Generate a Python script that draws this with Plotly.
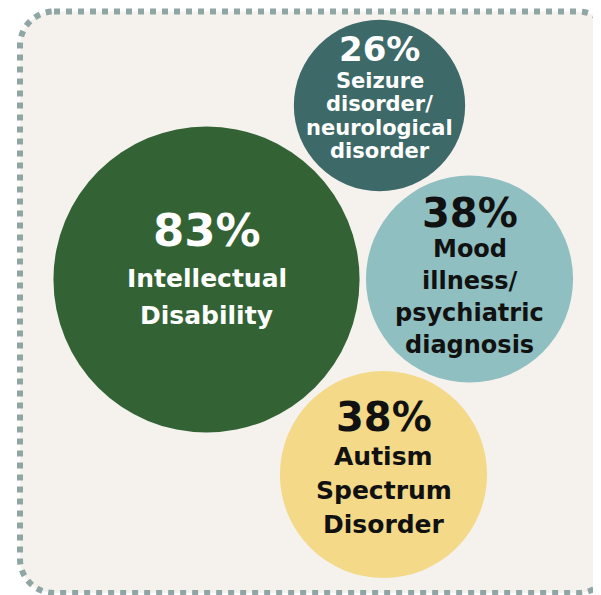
import numpy as np
import plotly.graph_objects as go

# Share of people with each condition (bubble area ~ value)
conditions = ["Intellectual Disability", "Seizure disorder/neurological disorder",
              "Mood illness/psychiatric diagnosis", "Autism Spectrum Disorder"]
values = [83, 26, 38, 38]
pct_labels = ["83%", "26%", "38%", "38%"]
label_lines = [
    ["Intellectual", "Disability"],
    ["Seizure", "disorder/", "neurological", "disorder"],
    ["Mood", "illness/", "psychiatric", "diagnosis"],
    ["Autism", "Spectrum", "Disorder"],
]

# Packed-bubble layout (pixel units, y grows downward)
cx = [206.5, 379.5, 469.5, 383.5]
cy = [279.5, 105.5, 279.0, 474.5]
fills = ["#336334", "#3d6a68", "#8fbfc0", "#f3d988"]
text_colors = ["#ffffff", "#ffffff", "#111111", "#111111"]
pct_dy = [-49.5, -57.0, -66.0, -57.5]
lab_dy0 = [-1.5, -24.5, -30.5, -18.0]
lab_step = [37.0, 23.3, 32.0, 34.0]
pct_size = [45, 34, 40, 40]
lab_size = [25, 21, 24, 25]

W, H = 601, 595
PAD = 8  # page body margin, compensated so marks land on the same pixels
FONT = "DejaVu Sans"

# diameter in px, area proportional to value
diam = 2 * 16.8 * np.sqrt(values)

fig = go.Figure()
fig.add_trace(go.Scatter(
    x=cx, y=cy, mode="markers",
    marker=dict(size=diam, color=fills, line=dict(width=0), opacity=1),
    hovertext=conditions, hoverinfo="text", showlegend=False,
))

annotations = []
for i in range(len(values)):
    annotations.append(dict(
        x=cx[i], y=cy[i] + pct_dy[i], text=pct_labels[i], showarrow=False,
        xanchor="center", yanchor="middle", borderpad=0,
        font=dict(family=FONT, size=pct_size[i], color=text_colors[i], weight=700),
    ))
    for j, line in enumerate(label_lines[i]):
        annotations.append(dict(
            x=cx[i], y=cy[i] + lab_dy0[i] + j * lab_step[i], text=line, showarrow=False,
            xanchor="center", yanchor="middle", borderpad=0,
            font=dict(family=FONT, size=lab_size[i], color=text_colors[i], weight=700),
        ))

# dotted rounded frame (runs past the right edge of the picture)
x0, y0, x1, y1, r = 20, 11.5, 612, 593, 34
k = r * 0.5523
frame = (f"M {x0 + r},{y0} L {x1 - r},{y0} "
         f"C {x1 - r + k},{y0} {x1},{y0 + r - k} {x1},{y0 + r} "
         f"L {x1},{y1 - r} "
         f"C {x1},{y1 - r + k} {x1 - r + k},{y1} {x1 - r},{y1} "
         f"L {x0 + r},{y1} "
         f"C {x0 + r - k},{y1} {x0},{y1 - r + k} {x0},{y1 - r} "
         f"L {x0},{y0 + r} "
         f"C {x0},{y0 + r - k} {x0 + r - k},{y0} {x0 + r},{y0} Z")

fig.update_layout(
    width=W - PAD, height=H - PAD, autosize=False,
    margin=dict(l=0, r=0, t=0, b=0),
    paper_bgcolor="#ffffff", plot_bgcolor="#ffffff",
    xaxis=dict(range=[PAD, W], visible=False, fixedrange=True),
    yaxis=dict(range=[H, PAD], visible=False, fixedrange=True),
    shapes=[dict(type="path", path=frame, xref="x", yref="y", layer="below",
                 fillcolor="#f5f2ee", line=dict(color="#8fa6a4", width=6, dash="6px,6px"))],
    annotations=annotations,
)

fig.write_html("out.html", config={"displayModeBar": False})
